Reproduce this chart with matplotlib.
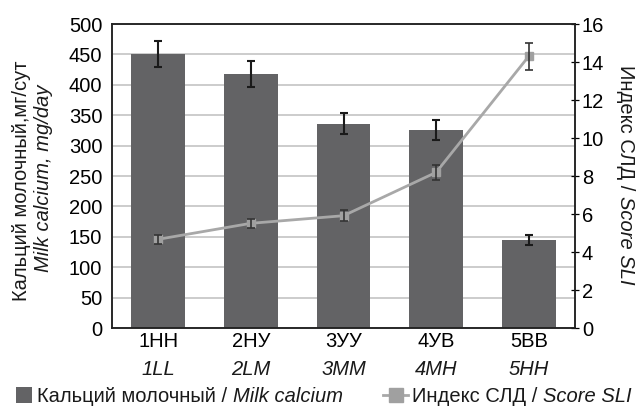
import matplotlib
matplotlib.use("Agg")
import matplotlib.pyplot as plt
from matplotlib.patches import Rectangle
from matplotlib.lines import Line2D
import matplotlib.transforms as mtrans

plt.rcParams['font.family'] = ['Liberation Sans', 'DejaVu Sans']

groups_ru = ["1НН", "2НУ", "3УУ", "4УВ", "5ВВ"]
groups_en = ["1LL", "2LM", "3MM", "4MH", "5HH"]
calcium = [451, 418, 336, 326, 145]
calcium_err = [21, 21, 17, 16, 8]
score = [4.67, 5.51, 5.91, 8.19, 14.3]
score_err = [0.24, 0.25, 0.28, 0.4, 0.72]

W, H = 636, 408
FS = 14.5
BAR = "#636365"
LINE = "#a8a8a8"


def fx(px):
    return px / W


def fy(py):
    return 1 - py / H


fig = plt.figure(figsize=(W / 100, H / 100), dpi=100)
ax = fig.add_axes([fx(112), fy(328), fx(575) - fx(112), fy(24) - fy(328)])
x = list(range(len(groups_ru)))

ax.bar(x, calcium, width=0.583, color=BAR, zorder=2)
ax.errorbar(x, calcium, yerr=calcium_err, fmt="none", ecolor="#1a1a1a",
            elinewidth=1.5, capsize=3, capthick=1.5, zorder=3)
ax.set_ylim(0, 500)
ax.set_xlim(-0.5, 4.5)
ax.set_yticks(range(0, 501, 50))
ax.yaxis.grid(True, color="#c4c4c4", linewidth=1.2, zorder=0)
ax.set_axisbelow(True)
ax.tick_params(axis="y", length=0, labelsize=FS, pad=7)
ax.tick_params(axis="x", length=0, labelsize=FS, pad=3)
ax.set_xticks(x)
ax.set_xticklabels(groups_ru)
xt = mtrans.blended_transform_factory(ax.transData, fig.transFigure)
for xi, lab in zip(x, groups_en):
    ax.text(xi, fy(375), lab, transform=xt, ha="center", va="baseline",
            fontsize=FS, fontstyle="italic", color="#1a1a1a")

ax2 = ax.twinx()
ax2.plot(x, score, color=LINE, linewidth=2.0, marker="s", markersize=5.5,
         markerfacecolor="#a0a0a0", markeredgecolor="#a0a0a0", zorder=4)
ax2.errorbar(x, score, yerr=score_err, fmt="none", ecolor="#333333",
             elinewidth=1.2, capsize=3, capthick=1.2, zorder=5)
ax2.set_ylim(0, 16)
ax2.set_yticks(range(0, 17, 2))
ax2.tick_params(axis="y", direction="inout", length=6, width=0.9, labelsize=FS, pad=2)

for a in (ax, ax2):
    for s in a.spines.values():
        s.set_color("#222222")
        s.set_linewidth(1.1)

# left axis title (two lines, second in italic)
fig.text(fx(22), fy(181), "Кальций молочный,мг/сут", rotation=90, ha="center",
         va="center", fontsize=FS, color="#1a1a1a")
fig.text(fx(44), fy(178), "Milk calcium, mg/day", rotation=90, ha="center",
         va="center", fontsize=FS, fontstyle="italic", color="#1a1a1a")

renderer = fig.canvas.get_renderer()
space = 0.28 * FS * 100 / 72

# right axis title: "Индекс СЛД / " + italic "Score SLI", reading downwards
t1 = fig.text(fx(625), fy(65), "Индекс СЛД /", rotation=-90, ha="center", va="top",
              fontsize=FS, color="#1a1a1a")
bb = t1.get_window_extent(renderer)
fig.text(fx(625), (bb.y0 - space) / H, "Score SLI", rotation=-90, ha="center",
         va="top", fontsize=FS, fontstyle="italic", color="#1a1a1a")


def legend_label(x0, base, normal, italic):
    t = fig.text(fx(x0), fy(base), normal, ha="left", va="baseline", fontsize=FS,
                 color="#1a1a1a")
    b = t.get_window_extent(renderer)
    fig.text((b.x1 + space) / W, fy(base), italic, ha="left", va="baseline",
             fontsize=FS, fontstyle="italic", color="#1a1a1a")


# legend
LB = 402
fig.add_artist(Rectangle((fx(16), fy(LB + 1)), fx(32) - fx(16), fy(LB - 15) - fy(LB + 1),
                         transform=fig.transFigure, facecolor=BAR, edgecolor="none"))
legend_label(37, LB, "Кальций молочный /", "Milk calcium")
fig.add_artist(Line2D([fx(383), fx(408)], [fy(LB - 7), fy(LB - 7)],
                      transform=fig.transFigure, color=LINE, linewidth=2.0))
fig.add_artist(Line2D([fx(395.5)], [fy(LB - 7)], transform=fig.transFigure,
                      linestyle="none", marker="s", markersize=10,
                      markerfacecolor="#a0a0a0", markeredgecolor="#a0a0a0"))
legend_label(412, LB, "Индекс СЛД /", "Score SLI")

fig.savefig("out.png", dpi=100)
